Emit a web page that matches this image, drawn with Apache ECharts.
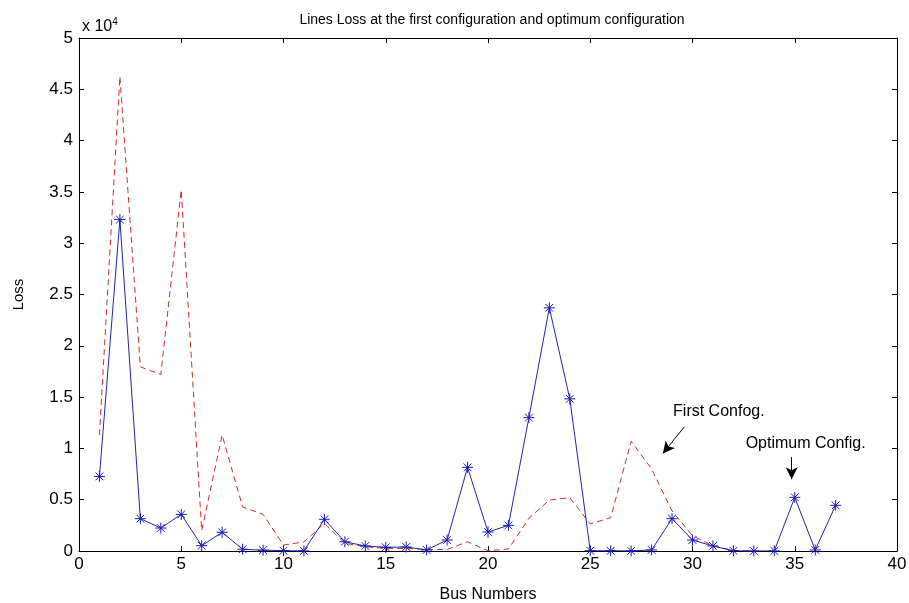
<!DOCTYPE html>
<html>
<head>
<meta charset="utf-8">
<script src="https://cdn.jsdelivr.net/npm/echarts@6/dist/echarts.min.js"></script>
<style>html,body{margin:0;padding:0;background:#fff;}#c{width:909px;height:603px;}</style>
</head>
<body>
<div id="c"></div>
<script>
const busNumbers = Array.from({length: 37}, (_, i) => i + 1);
const optimumLoss = [7270, 32300, 3150, 2240, 3570, 520, 1820, 170, 80, 30,
  10, 3090, 900, 490, 360, 390, 100, 1070, 8150, 1850,
  2500, 13000, 23700, 14830, 30, 20, 10, 100, 3150, 1070,
  490, 20, 0, 10, 5230, 100, 4450];
const firstLoss = [11300, 46250, 17950, 17200, 35200, 1980, 11300, 4300, 3570, 580,
  880, 2700, 750, 420, 250, 250, 150, 150, 900, 30,
  200, 3180, 4970, 5200, 2630, 3250, 10700, 8000, 3900, 1500,
  500, 50, 0];
const yTicks = [0, 0.5, 1, 1.5, 2, 2.5, 3, 3.5, 4, 4.5, 5];
const xTicks = [0, 5, 10, 15, 20, 25, 30, 35, 40];

const FONT = 'Liberation Sans, Arial, sans-serif';
const pairs = (vals) => vals.map((v, i) => [busNumbers[i], v]);

const chart = echarts.init(document.getElementById('c'), null, {renderer: 'canvas'});
const axisLine = {show: true, onZero: false, lineStyle: {color: '#000', width: 1}};
const tick = {show: true, inside: true, length: 5, lineStyle: {color: '#000'}};
chart.setOption({
  animation: false,
  backgroundColor: '#fff',
  title: [
    {text: 'Lines Loss at the first configuration and optimum configuration', left: 487, top: 8, textAlign: 'center',
     textStyle: {fontFamily: FONT, fontSize: 14, fontWeight: 'normal', color: '#000'}},
    {text: 'x 10{s|4}', left: 77, top: 12,
     textStyle: {fontFamily: FONT, fontSize: 16, fontWeight: 'normal', color: '#000',
       rich: {s: {fontSize: 10, verticalAlign: 'top', padding: [0, 0, 10, 0], fontFamily: FONT, color: '#000'}}}}
  ],
  grid: {left: 79, right: 12, top: 38, bottom: 52, show: false, containLabel: false, outerBoundsMode: 'none'},
  xAxis: [
    {type: 'value', min: xTicks[0], max: xTicks[xTicks.length - 1], interval: 5, position: 'bottom',
     name: 'Bus Numbers', nameLocation: 'middle', nameGap: 36,
     nameTextStyle: {fontFamily: FONT, fontSize: 16, color: '#000'},
     axisLine: axisLine, axisTick: tick,
     axisLabel: {fontFamily: FONT, fontSize: 17, color: '#000', margin: 5}, splitLine: {show: false}},
    {type: 'value', min: xTicks[0], max: xTicks[xTicks.length - 1], interval: 5, position: 'top',
     axisLine: axisLine, axisTick: tick, axisLabel: {show: false}, splitLine: {show: false}}
  ],
  yAxis: [
    {type: 'value', min: 0, max: 50000, interval: 5000, position: 'left',
     name: 'Loss', nameLocation: 'middle', nameGap: 53,
     nameTextStyle: {fontFamily: FONT, fontSize: 15, color: '#000'},
     axisLine: axisLine, axisTick: tick,
     axisLabel: {fontFamily: FONT, fontSize: 17, color: '#000', margin: 6,
       formatter: (v) => String(yTicks[Math.round(v / 5000)])}, splitLine: {show: false}},
    {type: 'value', min: 0, max: 50000, interval: 5000, position: 'right',
     axisLine: axisLine, axisTick: tick, axisLabel: {show: false}, splitLine: {show: false}}
  ],
  series: [
    {type: 'line', name: 'First Config', data: pairs(firstLoss), showSymbol: false, symbol: 'none',
     lineStyle: {color: '#d42a2a', width: 1, type: [6, 4]}, z: 2,
     markLine: {silent: true, symbol: ['none', 'arrow'], symbolSize: [9, 12],
       lineStyle: {color: '#000', width: 1, type: 'solid'}, label: {show: false},
       data: [
         [{coord: [29.6, 12100]}, {coord: [28.55, 9500]}],
         [{coord: [34.85, 9150]}, {coord: [34.85, 7000]}]
       ]},
     markPoint: {silent: true, symbol: 'circle', symbolSize: 0,
       label: {show: true, position: 'inside', align: 'left', fontFamily: FONT, fontSize: 16, color: '#000'},
       data: [
         {coord: [29.05, 13550], value: 'First Confog.', label: {formatter: 'First Confog.'}},
         {coord: [32.6, 10500], value: 'Optimum Config.', label: {formatter: 'Optimum Config.'}}
       ]}},
    {type: 'line', name: 'Optimum Config', data: pairs(optimumLoss), z: 3,
     symbol: 'path://M0,5 L10,5 M5,0 L5,10 M1.5,1.5 L8.5,8.5 M1.5,8.5 L8.5,1.5', symbolSize: 11,
     showSymbol: true, showAllSymbol: true,
     itemStyle: {color: 'rgba(0,0,0,0)', borderColor: '#1a1ab8', borderWidth: 1},
     lineStyle: {color: '#2424a8', width: 1}}
  ]
});
</script>
</body>
</html>
